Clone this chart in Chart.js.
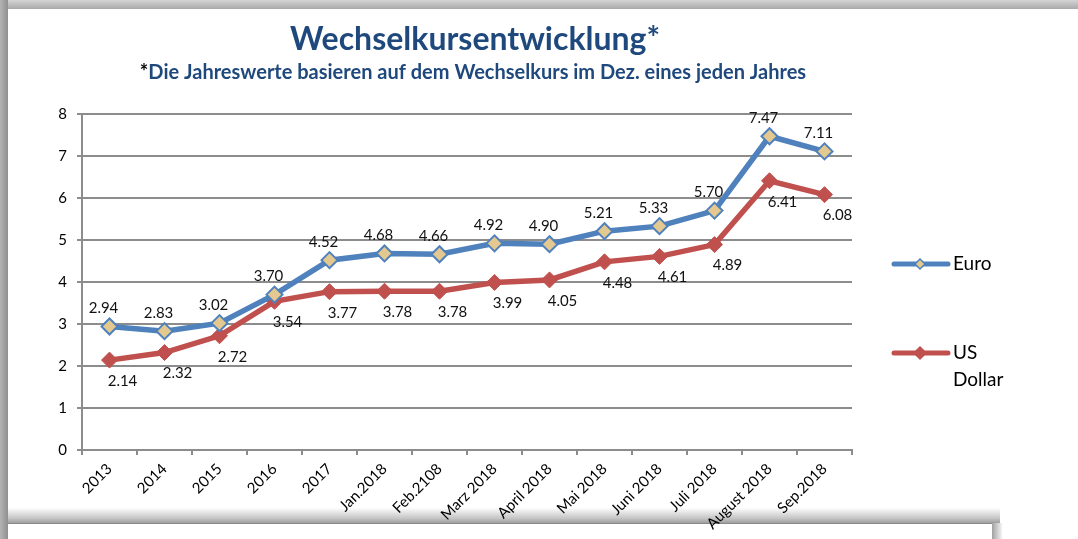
<!DOCTYPE html>
<html>
<head>
<meta charset="utf-8">
<script src="https://cdn.jsdelivr.net/npm/chart.js@4"></script>
<style>
  html, body { margin: 0; padding: 0; background: #fff; }
  #wrap { position: relative; width: 1078px; height: 539px; overflow: hidden; }
  .band-top { position: absolute; left: 0; top: 0; width: 1078px; height: 9px;
    background: linear-gradient(#d4d4d4, #a9a9a9); }
  .band-left { position: absolute; left: 0; top: 0; width: 8px; height: 539px;
    background: linear-gradient(90deg, #b4b4b4, #8f8f8f); }
  .band-bottom { position: absolute; left: 8px; top: 508px; width: 992px; height: 15px;
    background: linear-gradient(#fdfdfd, #c4c4c4 70%, #9e9e9e); }
  .band-corner { position: absolute; left: 992px; top: 523px; width: 10px; height: 16px;
    background: linear-gradient(90deg, #a0a0a0, #f4f4f4); }
  .box-bottom { position: absolute; left: 8px; top: 523px; width: 984px; height: 16px;
    background: #fff; border-top: 1px solid #8a8a8a; }
  canvas { position: absolute; left: 0; top: 0; }
</style>
</head>
<body>
<div id="wrap">
  <div class="band-top"></div>
  <div class="band-left"></div>
  <div class="band-bottom"></div>
  <div class="band-corner"></div>
  <div class="box-bottom"></div>
  <canvas id="rateChart" width="1078" height="539"></canvas>
</div>
<script>
const categories = ['2013', '2014', '2015', '2016', '2017', 'Jan.2018', 'Feb.2108', 'Marz 2018',
  'April 2018', 'Mai 2018', 'Juni 2018', 'Juli 2018', 'August 2018', 'Sep.2018'];
const euroValues = [2.94, 2.83, 3.02, 3.70, 4.52, 4.68, 4.66, 4.92, 4.90, 5.21, 5.33, 5.70, 7.47, 7.11];
const usdValues = [2.14, 2.32, 2.72, 3.54, 3.77, 3.78, 3.78, 3.99, 4.05, 4.48, 4.61, 4.89, 6.41, 6.08];
const yTicks = [0, 1, 2, 3, 4, 5, 6, 7, 8];

const titleText = 'Wechselkursentwicklung*';
const subtitleText = 'Die Jahreswerte basieren auf dem Wechselkurs im Dez. eines jeden Jahres';

const blue = '#4F81BD';
const red = '#C0504D';
const tan = '#E3C890';
const navy = '#1F497D';

// title, subtitle (black asterisk), point values and the right-hand legend
const decorations = {
  id: 'decorations',
  afterDatasetsDraw(chart) {
    const ctx = chart.ctx;
    ctx.save();
    ctx.textBaseline = 'middle';

    ctx.fillStyle = navy;
    ctx.font = 'bold 32px Lato';
    ctx.textAlign = 'center';
    ctx.fillText(titleText, 475, 40);

    ctx.font = 'bold 20px Lato';
    ctx.textAlign = 'left';
    const full = '*' + subtitleText;
    let x = 473 - ctx.measureText(full).width / 2;
    ctx.fillStyle = '#000';
    ctx.fillText('*', x, 73);
    x += ctx.measureText('*').width;
    ctx.fillStyle = navy;
    ctx.fillText(subtitleText, x, 73);

    ctx.font = '15px Lato';
    ctx.fillStyle = '#111';
    ctx.textAlign = 'center';
    const shifts = [[-6, -18], [13, 21]];
    chart.data.datasets.forEach((ds, i) => {
      chart.getDatasetMeta(i).data.forEach((pt, j) => {
        ctx.fillText(ds.data[j].toFixed(2), pt.x + shifts[i][0], pt.y + shifts[i][1]);
      });
    });

    const items = [
      { lines: ['Euro'], y: 264, color: blue, fill: tan, r: 5 },
      { lines: ['US', 'Dollar'], y: 353, color: red, fill: red, r: 6 }
    ];
    items.forEach(it => {
      ctx.strokeStyle = it.color;
      ctx.lineWidth = 5;
      ctx.lineCap = 'round';
      ctx.beginPath();
      ctx.moveTo(894, it.y);
      ctx.lineTo(948, it.y);
      ctx.stroke();
      ctx.beginPath();
      ctx.moveTo(920, it.y - it.r);
      ctx.lineTo(920 + it.r, it.y);
      ctx.lineTo(920, it.y + it.r);
      ctx.lineTo(920 - it.r, it.y);
      ctx.closePath();
      ctx.fillStyle = it.fill;
      ctx.fill();
      ctx.lineWidth = 1.5;
      ctx.stroke();
      ctx.fillStyle = '#000';
      ctx.font = '19px Lato';
      ctx.textAlign = 'left';
      it.lines.forEach((t, k) => ctx.fillText(t, 953, it.y + k * 27));
    });
    ctx.restore();
  }
};

new Chart(document.getElementById('rateChart'), {
  type: 'line',
  data: {
    labels: categories,
    datasets: [{
      label: 'Euro',
      data: euroValues,
      borderColor: blue,
      borderWidth: 5.5,
      pointStyle: 'rectRot',
      pointRadius: 8,
      pointBackgroundColor: tan,
      pointBorderColor: blue,
      pointBorderWidth: 2,
      tension: 0
    }, {
      label: 'US Dollar',
      data: usdValues,
      borderColor: red,
      borderWidth: 5.5,
      pointStyle: 'rectRot',
      pointRadius: 8,
      pointBackgroundColor: red,
      pointBorderColor: red,
      pointBorderWidth: 1,
      tension: 0
    }]
  },
  options: {
    responsive: false,
    animation: false,
    layout: { padding: { top: 114, right: 226, bottom: 0, left: 0 } },
    plugins: {
      legend: { display: false },
      title: { display: false },
      tooltip: { enabled: false }
    },
    scales: {
      x: {
        offset: true,
        afterFit(scale) { scale.height = 89; },
        grid: { offset: true, drawOnChartArea: false, drawTicks: true, tickLength: 5, color: '#8c8c8c', lineWidth: 2 },
        border: { color: '#8c8c8c', width: 2 },
        ticks: { color: '#000', font: { family: 'Lato', size: 15 }, minRotation: 45, maxRotation: 45, autoSkip: false, padding: 5 }
      },
      y: {
        min: 0,
        max: 8,
        afterFit(scale) { scale.width = 82; },
        afterBuildTicks(scale) { scale.ticks = yTicks.map(v => ({ value: v })); },
        grid: { color: '#8c8c8c', lineWidth: 2, tickLength: 5 },
        border: { color: '#8c8c8c', width: 2 },
        ticks: { color: '#000', font: { family: 'Lato', size: 15 }, padding: 10 }
      }
    }
  },
  plugins: [decorations]
});
</script>
</body>
</html>
